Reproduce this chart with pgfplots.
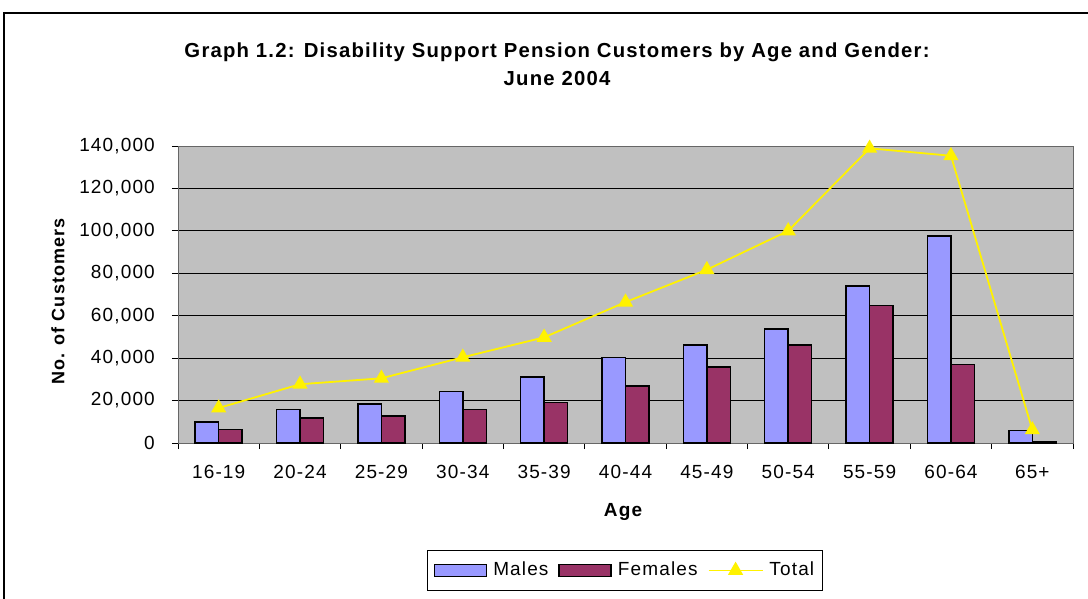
\documentclass[border=0pt]{standalone}
\usepackage{fontspec}
\setmainfont{Liberation Sans}[LetterSpace=6]
\usepackage{pgfplots}
\pgfplotsset{compat=1.18}
\definecolor{males}{HTML}{9999FF}
\definecolor{females}{HTML}{993366}
\definecolor{plotbg}{HTML}{C0C0C0}
\pgfplotsset{
  barleg/.style={legend image code/.code={\draw[##1, line width=1.5pt] (0pt,-6pt) rectangle (52pt,6pt);}},
  lineleg/.style={legend image code/.code={\draw[mark repeat=2,mark phase=2,##1] plot coordinates {(0pt,0pt)(27pt,0pt)(54pt,0pt)};}},
}
\begin{document}
\fontsize{19}{23}\selectfont
\begin{tikzpicture}[x=1pt,y=1pt]
\useasboundingbox (0,0) rectangle (1088,598);
\fill[white] (0,0) rectangle (1088,598);
\draw[line width=1.2pt] (4,-5) -- (4,585) -- (1095,585);
\node[font=\fontsize{20.3}{24}\selectfont\bfseries] at (557,546) {Graph 1.2: Disability Support Pension Customers by Age and Gender:};
\node[font=\fontsize{20.3}{24}\selectfont\bfseries] at (557,519.5) {June 2004};
\node[font=\fontsize{18}{22}\selectfont\bfseries, rotate=90] at (58,296.5) {No. of Customers};
\node[font=\bfseries] at (623,86) {Age};
\begin{axis}[
  at={(178pt,155pt)}, anchor=south west, scale only axis,
  width=895pt, height=297pt,
  xmin=-0.5, xmax=10.5, ymin=0, ymax=140000,
  ybar=0pt, bar width=23.5pt,
  scaled y ticks=false,
  axis background/.style={fill=plotbg},
  axis line style={draw=gray!80!black, line width=1pt},
  ymajorgrids, grid style={black, line width=1pt},
  ytick={0,20000,40000,60000,80000,100000,120000,140000},
  yticklabels={0,{20,000},{40,000},{60,000},{80,000},{100,000},{120,000},{140,000}},
  yticklabel style={anchor=east, inner sep=0pt, xshift=-17pt},
  xtick={-0.5,0.5,1.5,2.5,3.5,4.5,5.5,6.5,7.5,8.5,9.5,10.5},
  xticklabels={},
  extra x ticks={0,1,2,3,4,5,6,7,8,9,10},
  extra x tick labels={16-19,20-24,25-29,30-34,35-39,40-44,45-49,50-54,55-59,60-64,65+},
  extra x tick style={major tick length=0pt, tick label style={anchor=base, inner sep=0pt, yshift=-35.5pt}},
  tick align=outside, major tick length=6pt,
  xtick pos=bottom, ytick pos=left,
  tick style={black, line width=1pt},
  legend columns=3,
  legend style={at={(0.4994,-0.429)}, anchor=center, draw=black, line width=0.8pt,
    inner xsep=6pt, inner ysep=10pt,
    /tikz/every odd column/.append style={column sep=4pt},
    /tikz/every even column/.append style={column sep=8pt}},
  legend cell align=left,
]
\addplot[fill=males, draw=black, line width=1.5pt, barleg]
  coordinates {(0,10000)(1,15800)(2,18400)(3,24300)(4,31100)(5,40300)(6,46300)(7,53800)(8,74100)(9,97600)(10,5800)};
\addplot[fill=females, draw=black, line width=1.5pt, barleg]
  coordinates {(0,6400)(1,11800)(2,12700)(3,15800)(4,19100)(5,26800)(6,35900)(7,46300)(8,64800)(9,36900)(10,600)};
\addplot[sharp plot, draw=yellow, line width=1.8pt, mark=triangle*, mark size=7pt,
  mark options={fill=yellow, draw=yellow, solid}, lineleg]
  coordinates {(0,16500)(1,27700)(2,30500)(3,40400)(4,49800)(5,66400)(6,81700)(7,100000)(8,138900)(9,135400)(10,6200)};
\legend{Males,Females,Total}
\end{axis}
\end{tikzpicture}
\end{document}
